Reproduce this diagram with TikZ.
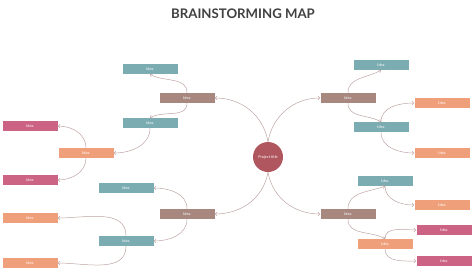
\documentclass[tikz,border=0pt]{standalone}
\usepackage{fontspec}
\setmainfont{Lato}
\usetikzlibrary{arrows.meta}
\definecolor{tealc}{HTML}{7BACB2}
\definecolor{brownc}{HTML}{A8877F}
\definecolor{pinkc}{HTML}{CC6384}
\definecolor{orangec}{HTML}{EFA07A}
\definecolor{circc}{HTML}{B0565F}
\definecolor{linec}{HTML}{BFA4A4}
\definecolor{titlec}{HTML}{404040}
\tikzset{
  idea/.style={rectangle, minimum width=55pt, minimum height=10pt, inner sep=0pt,
    text=white, font=\fontsize{3.8}{4}\selectfont},
  tb/.style={idea, fill=tealc},
  bb/.style={idea, fill=brownc},
  pb/.style={idea, fill=pinkc},
  ob/.style={idea, fill=orangec},
  link/.style={draw=linec, line width=0.5pt, -{Straight Barb[length=2pt,width=3.5pt]}},
}
\begin{document}
\begin{tikzpicture}[x=1pt,y=1pt]
\useasboundingbox (0,0) rectangle (474,-271);
\node[font=\fontsize{13.2}{15}\selectfont\bfseries, text=titlec] (title) at (243,-14) {BRAINSTORMING MAP};
\node[circle, fill=circc, minimum size=30pt, inner sep=0pt, text=white, font=\fontsize{3.8}{4}\selectfont] (c) at (268,-157) {Project title};
% left top
\node[bb] (B1) at (187,-98) {Idea};
\node[tb] (T1) at (150,-69) {Idea};
\node[tb] (T2) at (150,-123) {Idea};
\node[ob] (O1) at (86,-153) {Idea};
\node[pb] (P1) at (30,-126) {Idea};
\node[pb] (P2) at (30,-180) {Idea};
% left bottom
\node[bb] (B2) at (187,-214) {Idea};
\node[tb] (T3) at (126,-188) {Idea};
\node[tb] (T4) at (126,-241) {Idea};
\node[ob] (O2) at (30,-218) {Idea};
\node[ob] (O3) at (30,-263) {Idea};
% right top
\node[bb] (B3) at (348,-98) {Idea};
\node[tb] (T5) at (381,-65) {Idea};
\node[tb] (T6) at (381,-127) {Idea};
\node[ob] (O4) at (442,-103) {Idea};
\node[ob] (O5) at (442,-153) {Idea};
% right bottom
\node[bb] (B4) at (348,-214) {Idea};
\node[tb] (T7) at (385,-181) {Idea};
\node[ob] (O6) at (442,-205) {Idea};
\node[ob] (O7) at (385,-244) {Idea};
\node[pb] (P3) at (444,-230) {Idea};
\node[pb] (P4) at (444,-261) {Idea};
% connectors from centre
\draw[link] (c.north) to[out=100,in=0] (B1.east);
\draw[link] (c.north) to[out=80,in=180] (B3.west);
\draw[link] (c.south) to[out=-100,in=0] (B2.east);
\draw[link] (c.south) to[out=-80,in=180] (B4.west);
% left top
\draw[link] (B1.north) to[out=90,in=-30] (T1.south);
\draw[link] (B1.south) to[out=-90,in=30] (T2.north);
\draw[link] (T2.south) to[out=-90,in=0] (O1.east);
\draw[link] (O1.north) to[out=90,in=0] (P1.east);
\draw[link] (O1.south) to[out=-90,in=0] (P2.east);
% left bottom
\draw[link] (B2.north) to[out=90,in=0] (T3.east);
\draw[link] (B2.south) to[out=-90,in=0] (T4.east);
\draw[link] (T4.north) to[out=90,in=0] (O2.east);
\draw[link] (T4.south) to[out=-90,in=0] (O3.east);
% right top
\draw[link] (B3.north) to[out=90,in=-150] (T5.south);
\draw[link] (B3.south) to[out=-90,in=150] (T6.north);
\draw[link] (T6.north) to[out=90,in=180] (O4.west);
\draw[link] (T6.south) to[out=-90,in=180] (O5.west);
% right bottom
\draw[link] (B4.north) to[out=90,in=-160] (T7.south);
\draw[link] (T7.south) to[out=-90,in=180] (O6.west);
\draw[link] (B4.south) to[out=-90,in=150] (O7.north);
\draw[link] (O7.north) to[out=90,in=180] (P3.west);
\draw[link] (O7.south) to[out=-90,in=180] (P4.west);
\end{tikzpicture}
\end{document}
